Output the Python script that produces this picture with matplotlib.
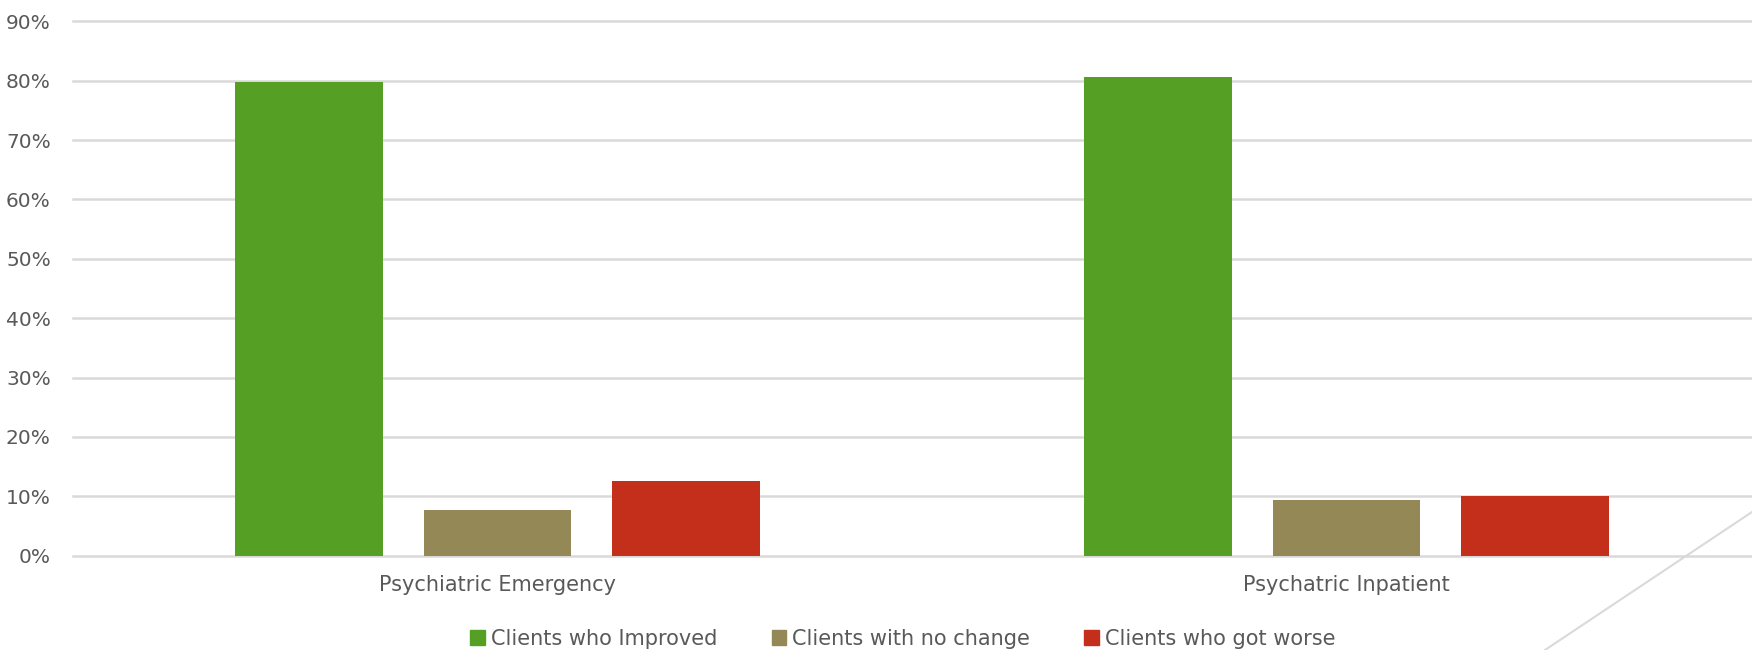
import matplotlib.pyplot as plt
import numpy as np
from matplotlib.lines import Line2D
from matplotlib.ticker import PercentFormatter

categories = ["Psychiatric Emergency", "Psychatric Inpatient"]
series_names = ["Clients who Improved", "Clients with no change", "Clients who got worse"]
improved = [79.8, 80.6]
no_change = [7.7, 9.4]
worse = [12.5, 10.0]

colors = ["#55A024", "#938856", "#C42F1B"]
text_color = "#595959"
grid_color = "#D9D9D9"

W, H = 1752, 650
fig = plt.figure(figsize=(W / 100, H / 100), dpi=100)
left, right = 73, W
top, bottom = 21.3, 555.7
ax = fig.add_axes([left / W, 1 - bottom / H, (right - left) / W, (bottom - top) / H])

x = np.arange(len(categories))
width = 0.174
step = 0.222
for i, (vals, name) in enumerate(zip([improved, no_change, worse], series_names)):
    ax.bar(x + (i - 1) * step, vals, width, color=colors[i], label=name, zorder=3)

ax.set_ylim(0, 90)
ax.set_yticks(np.arange(0, 91, 10))
ax.yaxis.set_major_formatter(PercentFormatter(decimals=0))
ax.set_xlim(-0.5, -0.5 + (right - left) / 849)
ax.set_xticks(x)
ax.set_xticklabels(categories)

ax.grid(axis="y", color=grid_color, linewidth=1.8, zorder=0)
for gl in ax.get_ygridlines():
    gl.set_clip_on(False)
for s in ax.spines.values():
    s.set_visible(False)
ax.tick_params(axis="both", length=0, colors=text_color, labelsize=14.5)
ax.tick_params(axis="y", pad=16)
ax.tick_params(axis="x", pad=14)
for lbl in ax.get_xticklabels():
    lbl.set_fontsize(15)

# decorative diagonal line at the bottom right
fig.add_artist(Line2D([1545 / W, 1], [0, 1 - 512 / H], color=grid_color, linewidth=1.5))

handles = [plt.Rectangle((0, 0), 1, 1, color=c) for c in colors]
fig.legend(handles, series_names, loc="center", bbox_to_anchor=(903 / W, 1 - 639 / H),
           ncol=3, frameon=False, handlelength=0.7, handleheight=0.7, handletextpad=0.3,
           columnspacing=2.6, prop={"size": 15}, labelcolor=text_color)

fig.savefig("out.png", dpi=100)
